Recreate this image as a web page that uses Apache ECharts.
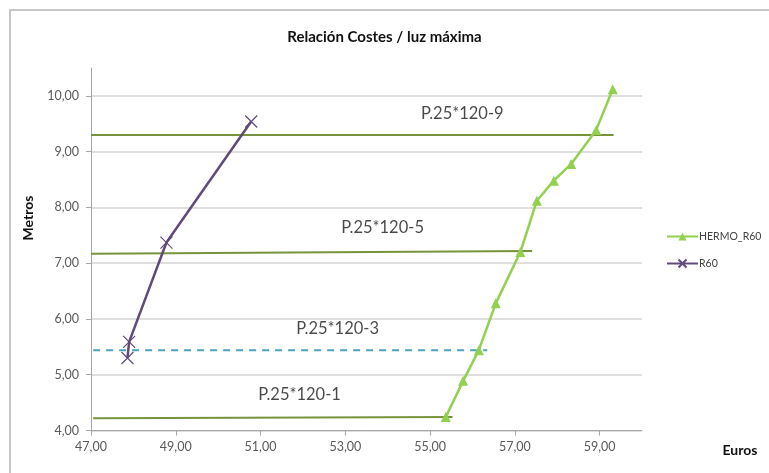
<!DOCTYPE html>
<html>
<head>
<meta charset="utf-8">
<script src="https://cdn.jsdelivr.net/npm/echarts@6/dist/echarts.min.js"></script>
<style>
  html, body { margin: 0; padding: 0; background: #fff; }
  #chart { width: 769px; height: 473px; }
</style>
</head>
<body>
<div id="chart"></div>
<script>
// Cost (euros) against maximum span (metres)
const hermoX = [55.37, 55.78, 56.15, 56.55, 57.13, 57.52, 57.92, 58.33, 58.92, 59.31];
const hermoY = [4.24, 4.89, 5.44, 6.28, 7.20, 8.12, 8.48, 8.78, 9.39, 10.12];
const r60X = [47.86, 47.90, 48.78, 50.78];
const r60Y = [5.30, 5.59, 7.37, 9.54];

// Reference profiles drawn as horizontal segments
const refNames = ['P.25*120-9', 'P.25*120-5', 'P.25*120-3', 'P.25*120-1'];
const refStartX = [47.0, 47.0, 47.05, 47.05];
const refEndX = [59.33, 57.41, 56.35, 55.53];
const refStartY = [9.30, 7.17, 5.44, 4.22];
const refEndY = [9.30, 7.22, 5.44, 4.24];
const refLabelX = [55.76, 53.88, 52.82, 51.92];
const refLabelY = [9.69, 7.63, 5.83, 4.64];

const xTicks = [47, 49, 51, 53, 55, 57, 59];
const yTicks = [4, 5, 6, 7, 8, 9, 10];

const FONT = 'Lato, "Open Sans", sans-serif';
const fmt = v => v.toFixed(2).replace('.', ',');
const pairs = (xs, ys) => xs.map((x, i) => [x, ys[i]]);

const refColors = ['#77933C', '#77933C', '#4AA3BF', '#77933C'];
const refSeries = refNames.map((name, i) => ({
  name: name,
  type: 'line',
  data: [[refStartX[i], refStartY[i]], [refEndX[i], refEndY[i]]],
  symbol: 'none',
  silent: true,
  z: 1,
  lineStyle: {
    color: refColors[i],
    width: 2,
    type: i === 2 ? [7, 6] : 'solid'
  }
}));

const labelSeries = {
  name: 'labels',
  type: 'scatter',
  data: refNames.map((n, i) => ({ value: [refLabelX[i], refLabelY[i]], name: n })),
  symbolSize: 0,
  silent: true,
  label: {
    show: true,
    position: 'inside',
    formatter: p => p.name,
    fontFamily: FONT,
    fontSize: 16.5,
    color: '#1a1a1a'
  }
};

const chart = echarts.init(document.getElementById('chart'), null, { renderer: 'canvas' });
chart.setOption({
  animation: false,
  backgroundColor: '#fff',
  textStyle: { fontFamily: FONT },
  title: {
    text: 'Relación Costes / luz máxima',
    left: 'center',
    top: 25,
    textStyle: { fontFamily: FONT, fontSize: 15, fontWeight: 'bold', color: '#111' }
  },
  legend: {
    data: ['HERMO_R60', 'R60'],
    orient: 'vertical',
    left: 661,
    top: 226,
    itemWidth: 31,
    itemHeight: 10,
    itemGap: 16,
    textStyle: { fontFamily: FONT, fontSize: 10.5, color: '#404040', padding: [0, 0, 0, -4] }
  },
  graphic: [
    {
      type: 'rect',
      shape: { x: 10, y: 10, width: 800, height: 500 },
      style: { fill: 'none', stroke: '#c6c6c6', lineWidth: 2 },
      silent: true
    },
    {
      type: 'text',
      x: 28, y: 218,
      rotation: Math.PI / 2,
      style: { text: 'Metros', font: 'bold 14px ' + FONT, fill: '#111', align: 'center', verticalAlign: 'middle' }
    },
    {
      type: 'text',
      x: 740, y: 450,
      style: { text: 'Euros', font: 'bold 14px ' + FONT, fill: '#111', align: 'center', verticalAlign: 'middle' }
    }
  ],
  grid: { left: 91, right: 127, top: 68, bottom: 42.5, containLabel: false },
  xAxis: {
    type: 'value',
    min: 47,
    max: 60,
    interval: 1,
    axisLine: { show: true, lineStyle: { color: '#a6a6a6', width: 1 } },
    axisTick: { show: true, length: 5, customValues: xTicks, lineStyle: { color: '#a6a6a6' } },
    axisLabel: { customValues: xTicks, formatter: fmt, color: '#595959', fontSize: 12.5, fontFamily: FONT, margin: 10 },
    splitLine: { show: false }
  },
  yAxis: {
    type: 'value',
    min: 4,
    max: 10.5,
    interval: 1,
    axisLine: { show: true, lineStyle: { color: '#a6a6a6', width: 1 } },
    axisTick: { show: true, length: 5, customValues: yTicks, lineStyle: { color: '#a6a6a6' } },
    axisLabel: { customValues: yTicks, formatter: fmt, color: '#595959', fontSize: 12.5, fontFamily: FONT, margin: 12 },
    splitLine: { show: true, customValues: yTicks, lineStyle: { color: '#d4d4d4', width: 1.5 } }
  },
  series: [
    ...refSeries,
    {
      name: 'HERMO_R60',
      type: 'line',
      data: pairs(hermoX, hermoY),
      symbol: 'triangle',
      symbolSize: 10,
      z: 3,
      lineStyle: { color: '#92D050', width: 2.5 },
      itemStyle: { color: '#92D050' }
    },
    {
      name: 'R60',
      type: 'line',
      data: pairs(r60X, r60Y),
      symbol: 'path://M0,0L10,10M10,0L0,10',
      symbolSize: 12,
      z: 3,
      lineStyle: { color: '#604A7B', width: 2.5 },
      itemStyle: { color: '#604A7B', borderColor: '#604A7B', borderWidth: 1.2 }
    },
    labelSeries
  ]
});
</script>
</body>
</html>
